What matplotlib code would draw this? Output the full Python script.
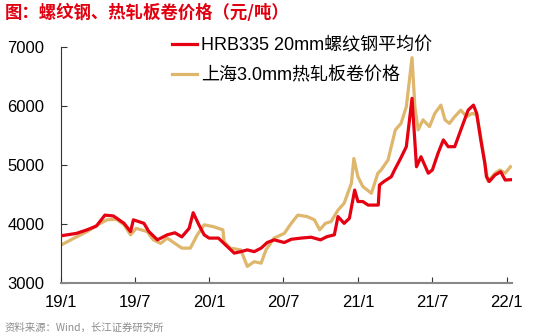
import matplotlib
matplotlib.use("Agg")
import matplotlib.pyplot as plt
import pandas as pd

plt.rcParams['font.family'] = ['Liberation Sans', 'Noto Sans CJK SC', 'DejaVu Sans']

# HRB335 20mm rebar average price (yuan/ton)
rebar_dates = [
    "2019-01-02", "2019-02-08", "2019-03-06", "2019-03-29", "2019-04-19", "2019-05-10",
    "2019-06-05", "2019-06-21", "2019-06-28", "2019-07-24", "2019-08-05", "2019-08-26",
    "2019-09-19", "2019-10-08", "2019-10-25", "2019-11-12", "2019-11-22", "2019-12-06",
    "2019-12-19", "2019-12-31", "2020-01-23", "2020-02-14", "2020-03-02", "2020-03-18",
    "2020-04-03", "2020-04-20", "2020-05-07", "2020-05-22", "2020-06-08", "2020-07-03",
    "2020-07-20", "2020-08-13", "2020-09-07", "2020-09-30", "2020-10-16", "2020-11-03",
    "2020-11-12", "2020-11-27", "2020-12-10", "2020-12-23", "2020-12-31", "2021-01-12",
    "2021-01-25", "2021-02-19", "2021-02-22", "2021-03-05", "2021-03-23", "2021-03-31",
    "2021-04-13", "2021-04-29", "2021-05-13", "2021-05-24", "2021-06-04", "2021-06-22",
    "2021-07-02", "2021-07-16", "2021-07-29", "2021-08-10", "2021-08-26", "2021-09-10",
    "2021-09-28", "2021-10-11", "2021-10-19", "2021-10-29", "2021-11-08", "2021-11-12",
    "2021-11-19", "2021-12-03", "2021-12-17", "2021-12-28", "2022-01-10",
]
rebar_values = [
    3800, 3840, 3900, 3965, 4150, 4135,
    4010, 3870, 4070, 4010, 3870, 3730,
    3815, 3850, 3780, 3925, 4190, 3985,
    3815, 3760, 3760, 3615, 3505, 3530,
    3560, 3530, 3590, 3685, 3730, 3685,
    3740, 3760, 3775, 3730, 3785, 3815,
    4125, 4010, 4095, 4575, 4380, 4380,
    4320, 4320, 4660, 4720, 4800, 4915,
    5085, 5310, 6130, 4970, 5140, 4860,
    4915, 5200, 5425, 5310, 5310, 5595,
    5930, 6015, 5875, 5425, 5030, 4800,
    4720, 4830, 4885, 4745, 4750,
]

# Shanghai 3.0mm hot-rolled coil price (yuan/ton)
hrc_dates = [
    "2019-01-02", "2019-02-08", "2019-03-06", "2019-04-08", "2019-04-24", "2019-05-17",
    "2019-06-05", "2019-06-21", "2019-07-05", "2019-08-01", "2019-08-16", "2019-09-03",
    "2019-09-19", "2019-10-08", "2019-10-25", "2019-11-15", "2019-12-02", "2019-12-19",
    "2020-01-10", "2020-02-03", "2020-02-06", "2020-02-21", "2020-03-18", "2020-04-03",
    "2020-04-20", "2020-05-07", "2020-05-19", "2020-06-08", "2020-07-03", "2020-07-20",
    "2020-08-05", "2020-08-28", "2020-09-15", "2020-09-28", "2020-10-12", "2020-10-26",
    "2020-11-12", "2020-11-27", "2020-12-15", "2020-12-21", "2020-12-31", "2021-01-12",
    "2021-02-02", "2021-02-18", "2021-02-26", "2021-03-15", "2021-04-02", "2021-04-16",
    "2021-04-29", "2021-05-13", "2021-05-20", "2021-05-28", "2021-06-09", "2021-06-25",
    "2021-07-08", "2021-07-23", "2021-08-02", "2021-08-13", "2021-08-26", "2021-09-10",
    "2021-09-24", "2021-10-08", "2021-10-19", "2021-10-29", "2021-11-12", "2021-11-16",
    "2021-12-03", "2021-12-15", "2021-12-28", "2022-01-10",
]
hrc_values = [
    3645, 3780, 3870, 4010, 4070, 4080,
    3985, 3815, 3925, 3870, 3730, 3670,
    3760, 3670, 3590, 3590, 3815, 3985,
    3955, 3900, 3700, 3590, 3560, 3280,
    3360, 3335, 3560, 3760, 3840, 4010,
    4150, 4125, 4070, 3900, 4010, 4040,
    4235, 4350, 4690, 5110, 4800, 4635,
    4520, 4860, 4915, 5085, 5595, 5705,
    5990, 6820, 5990, 5595, 5765, 5650,
    5875, 6015, 5765, 5705, 5820, 5930,
    5820, 5875, 5850, 5480, 4860, 4720,
    4860, 4915, 4860, 4970,
]

tick_labels = ["19/1", "19/7", "20/1", "20/7", "21/1", "21/7", "22/1"]
tick_dates = ["2019-01-01", "2019-07-01", "2020-01-01", "2020-07-01",
              "2021-01-01", "2021-07-01", "2022-01-01"]

rebar = pd.Series(rebar_values, index=pd.to_datetime(rebar_dates))
hrc = pd.Series(hrc_values, index=pd.to_datetime(hrc_dates))

fig = plt.figure(figsize=(5.37, 3.36), dpi=100)
ax = fig.add_axes([0.1136, 0.158, 0.84, 0.702])

ax.plot(hrc.index, hrc.values, color='#DEB66C', lw=2.3, label='上海3.0mm热轧板卷价格', zorder=2)
ax.plot(rebar.index, rebar.values, color='#E50012', lw=2.3, label='HRB335 20mm螺纹钢平均价', zorder=3)

ax.set_ylim(3000, 7000)
ax.set_yticks([3000, 4000, 5000, 6000, 7000])
ax.set_xlim(pd.Timestamp("2019-01-01"), pd.Timestamp("2022-01-14"))
ax.set_xticks(pd.to_datetime(tick_dates))
ax.set_xticklabels(tick_labels)

ax.tick_params(axis='both', direction='in', labelsize=12, length=4, color='#333333')
ax.tick_params(axis='x', pad=9)
ax.tick_params(axis='y', pad=12)
for s in ['top', 'right']:
    ax.spines[s].set_visible(False)
ax.spines['left'].set_color('#333333')
ax.spines['left'].set_linewidth(0.8)
ax.spines['bottom'].set_color('#888888')
ax.spines['bottom'].set_linewidth(1.5)

handles, labels = ax.get_legend_handles_labels()
ax.legend(handles[::-1], labels[::-1], loc='upper left', bbox_to_anchor=(0.32, 0.89),
          bbox_transform=fig.transFigure, frameon=False, fontsize=13,
          handlelength=1.4, handletextpad=0.2, labelspacing=0.72,
          borderpad=0, borderaxespad=0)

fig.text(0.008, 0.962, '图：螺纹钢、热轧板卷价格（元/吨）', color='#E00010', fontsize=12.5,
         fontweight='bold', family=['Noto Sans CJK SC'], va='center')
fig.text(0.008, 0.025, '资料来源：Wind，长江证券研究所', color='#8C8C8C', fontsize=7.5,
         family=['Noto Sans CJK SC'], va='center')

fig.savefig('out.png', dpi=100)
